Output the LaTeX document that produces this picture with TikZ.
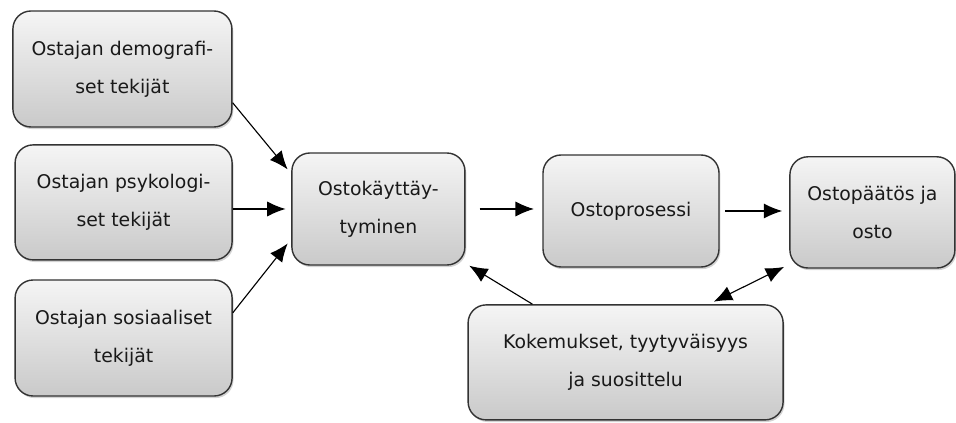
\documentclass[tikz,border=0pt]{standalone}
\usepackage{fontspec}
\setmainfont{DejaVu Sans}
\usetikzlibrary{arrows.meta,shadows}

\tikzset{
  laatikko/.style={draw=black!80, line width=1pt, rounded corners=0.45cm,
    top color=gray!8, bottom color=gray!42,
    drop shadow={shadow xshift=1pt, shadow yshift=-1.5pt, opacity=.35},
    align=center, inner sep=0pt,
    font=\fontsize{13.4}{27}\selectfont, text=black!90},
  nuoli/.style={->, line width=0.8pt}
}

\begin{document}
\begin{tikzpicture}[>={Latex[length=4.6mm,width=3.8mm]}]
\useasboundingbox (0,0) rectangle (23.9,-10.575);
\node[laatikko, minimum width=5.475cm, minimum height=2.9cm] (demo) at (3.06,-1.725) {Ostajan demografi-\\set tekijät};
\node[laatikko, minimum width=5.425cm, minimum height=2.875cm] (psyk) at (3.09,-5.06) {Ostajan psykologi-\\set tekijät};
\node[laatikko, minimum width=5.425cm, minimum height=2.9cm] (sos) at (3.09,-8.45) {Ostajan sosiaaliset\\tekijät};
\node[laatikko, minimum width=4.325cm, minimum height=2.8cm] (kayt) at (9.46,-5.225) {Ostokäyttäy-\\tyminen};
\node[laatikko, minimum width=4.4cm, minimum height=2.8cm] (pros) at (15.775,-5.275) {Ostoprosessi};
\node[laatikko, minimum width=4.125cm, minimum height=2.78cm] (paat) at (21.81,-5.31) {Ostopäätös ja\\osto};
\node[laatikko, minimum width=7.875cm, minimum height=2.875cm] (kok) at (15.64,-9.06) {Kokemukset, tyytyväisyys\\ja suosittelu};
% nuolet
\draw[nuoli, shorten >=4pt] (demo.-17) -- (kayt.158);
\draw[nuoli, shorten >=4pt] (psyk.east |- kayt.west) -- (kayt.west);
\draw[nuoli, shorten >=4pt] (sos.13) -- (kayt.199);
\draw[nuoli, shorten <=10pt, shorten >=6pt] (kayt.east) -- (kayt.east -| pros.west);
\draw[nuoli, shorten <=4pt, shorten >=5pt] (pros.east) -- (pros.east -| paat.west);
\draw[nuoli, shorten >=3pt] (kok.148) -- (kayt.-32);
\draw[nuoli, <->, shorten <=4pt, shorten >=4pt] (kok.35) -- (paat.212);
\end{tikzpicture}
\end{document}
